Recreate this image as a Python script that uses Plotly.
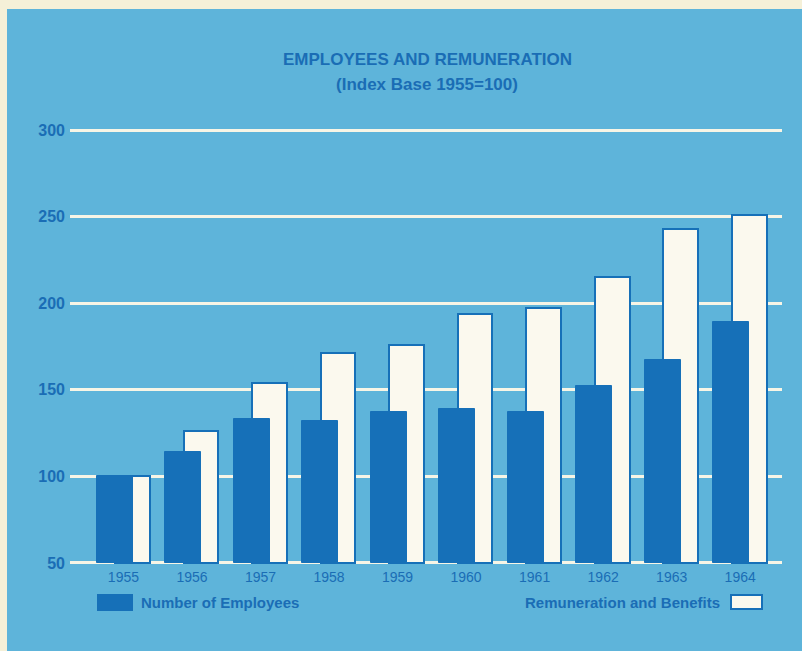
import plotly.graph_objects as go

years = ["1955", "1956", "1957", "1958", "1959", "1960", "1961", "1962", "1963", "1964"]
employees = [100, 114, 133, 132, 137, 139, 137, 152, 167, 189]
remuneration = [100, 126, 154, 171, 176, 194, 197, 215, 243, 251]
y_ticks = [50, 100, 150, 200, 250, 300]

BASE = 50
BG = "#5eb4da"
DARK = "#1670b8"
TEXT = "#1a6db5"
CREAM = "#fbf9ee"
GRID = "#f7f5e6"
BORDER = "#f5f0d8"
FONT = "Liberation Sans, Arial, sans-serif"

W, H = 802, 651
PL, PR, PT, PB = 70, 782, 129, 564  # plot area in pixels
L, R, T, B = PL, W - PR, PT, H - PB
pw, ph = W - L - R, H - T - B


def px(x):
    return (x - L) / pw


def py(y):
    return (H - B - y) / ph


fig = go.Figure()
fig.add_trace(go.Bar(
    x=years, y=[v - BASE for v in remuneration], base=BASE,
    offset=-0.12, width=0.505,
    marker=dict(color=CREAM, line=dict(color=DARK, width=2)),
    name="Remuneration and Benefits", showlegend=False,
))
fig.add_trace(go.Bar(
    x=years, y=[v - BASE for v in employees], base=BASE,
    offset=-0.39, width=0.525,
    marker=dict(color=DARK, line=dict(color=DARK, width=1)),
    name="Number of Employees", showlegend=False,
))

shapes = [
    # cream page edge (top and left)
    dict(type="rect", xref="paper", yref="paper", x0=px(-2), x1=px(W + 2), y0=py(9), y1=py(-2),
         fillcolor=BORDER, line=dict(width=0), layer="below"),
    dict(type="rect", xref="paper", yref="paper", x0=px(-2), x1=px(7), y0=py(H + 2), y1=py(-2),
         fillcolor=BORDER, line=dict(width=0), layer="below"),
    # legend swatches
    dict(type="rect", xref="paper", yref="paper", x0=px(97), x1=px(133), y0=py(611), y1=py(594),
         fillcolor=DARK, line=dict(width=0)),
    dict(type="rect", xref="paper", yref="paper", x0=px(731), x1=px(762), y0=py(609), y1=py(595),
         fillcolor=CREAM, line=dict(color=DARK, width=2)),
]

annotations = [
    dict(text="EMPLOYEES AND REMUNERATION", xref="paper", yref="paper", x=px(427), y=py(60),
         showarrow=False, font=dict(family=FONT, size=17, color=TEXT, weight="bold"),
         xanchor="center", yanchor="middle"),
    dict(text="(Index Base 1955=100)", xref="paper", yref="paper", x=px(427), y=py(84),
         showarrow=False, font=dict(family=FONT, size=17, color=TEXT, weight="bold"),
         xanchor="center", yanchor="middle"),
    dict(text="Number of Employees", xref="paper", yref="paper", x=px(139), y=py(602),
         showarrow=False, font=dict(family=FONT, size=15, color=TEXT, weight="bold"),
         xanchor="left", yanchor="middle"),
    dict(text="Remuneration and Benefits", xref="paper", yref="paper", x=px(722), y=py(602),
         showarrow=False, font=dict(family=FONT, size=15, color=TEXT, weight="bold"),
         xanchor="right", yanchor="middle"),
]

fig.update_layout(
    width=W, height=H,
    margin=dict(l=L, r=R, t=T, b=B, pad=0),
    paper_bgcolor=BG, plot_bgcolor="rgba(0,0,0,0)",
    barmode="overlay", bargap=0,
    showlegend=False,
    shapes=shapes, annotations=annotations,
    xaxis=dict(
        type="category", range=[-0.78, 9.61],
        showgrid=False, zeroline=False, showline=False, ticks="",
        tickfont=dict(family=FONT, size=14, color=TEXT),
        ticklabelstandoff=3,
    ),
    yaxis=dict(
        range=[49.4, 300.6], tickvals=y_ticks,
        showgrid=True, gridcolor=GRID, gridwidth=2.5,
        zeroline=False, showline=False, ticks="",
        tickfont=dict(family=FONT, size=16, color=TEXT, weight="bold"),
        ticklabelstandoff=4,
    ),
)

fig.write_html(
    "out.html",
    config={"displayModeBar": False},
    post_script="document.body.style.margin='0';document.body.style.overflow='hidden';",
)
